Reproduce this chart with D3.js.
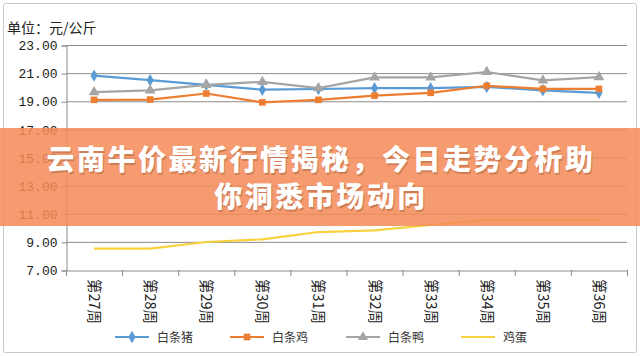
<!DOCTYPE html>
<html><head><meta charset="utf-8">
<script src="https://cdn.jsdelivr.net/npm/d3@7/dist/d3.min.js"></script>
<style>body{margin:0;background:#fff}svg{display:block}</style>
</head><body>
<svg id="c" width="640" height="356"></svg>
<script>
const weeks = ["第27周","第28周","第29周","第30周","第31周","第32周","第33周","第34周","第35周","第36周"];
const pork  = [20.82,20.5,20.17,19.82,19.87,19.93,19.93,20.02,19.78,19.6];
const chicken = [19.1,19.12,19.55,18.92,19.1,19.4,19.6,20.1,19.88,19.88];
const duck  = [19.65,19.78,20.16,20.38,19.93,20.7,20.7,21.08,20.48,20.72];
const egg   = [8.52,8.52,8.99,9.18,9.7,9.82,10.2,10.56,10.56,10.55];
const seriesNames = ["白条猪","白条鸡","白条鸭","鸡蛋"];
const yTicks = [7,9,11,13,15,17,19,21,23];
const unitLabel = "单位：元/公斤";
const titleLines = ["云南牛价最新行情揭秘，今日走势分析助","你洞悉市场动向"];

const svg = d3.select("#c");
const colors = ["#5B9BD5","#ED7D31","#A5A5A5","#F7D23E"];
const symbols = [d3.symbolDiamond, d3.symbolSquare, d3.symbolTriangle, null];
const data = [pork, chicken, duck, egg];

svg.append("rect").attr("x",3.5).attr("y",3.5).attr("width",633).attr("height",349)
  .attr("fill","#fff").attr("stroke","#c8c8c8").attr("rx",2);

const x = d3.scaleBand().domain(weeks).range([66,627]);
const y = d3.scaleLinear().domain([7,23]).range([270,45]);

// gridlines
svg.append("g").selectAll("line").data(yTicks.slice(1)).join("line")
  .attr("x1",66).attr("x2",627).attr("y1",d=>y(d)+0.5).attr("y2",d=>y(d)+0.5)
  .attr("stroke","#8c8c8c").attr("stroke-width",1);

// y axis
const ya = svg.append("g").attr("transform","translate(66.5,0.5)")
  .call(d3.axisLeft(y).tickValues(yTicks).tickSize(5).tickPadding(4).tickFormat(d3.format(".2f")));
ya.select(".domain").attr("stroke","#8c8c8c");
ya.selectAll(".tick line").attr("stroke","#8c8c8c");
ya.selectAll("text").attr("font-family","'Liberation Mono',monospace").attr("font-size",13).attr("fill","#222");

// x axis
const xa = svg.append("g").attr("transform","translate(0.5,270.5)")
  .call(d3.axisBottom(x).tickSize(0).tickFormat(""));
xa.select(".domain").attr("stroke","#8c8c8c");
svg.append("g").selectAll("line").data(weeks.concat(["end"])).join("line")
  .attr("x1",(d,i)=>66.5+i*x.step()).attr("x2",(d,i)=>66.5+i*x.step())
  .attr("y1",270).attr("y2",276).attr("stroke","#8c8c8c");
svg.append("g").selectAll("text").data(weeks).join("text")
  .attr("transform",d=>`translate(${x(d)+x.bandwidth()/2-5},279) rotate(90)`)
  .attr("font-family","'Noto Sans CJK SC',sans-serif").attr("font-size",14.5).attr("fill","#222")
  .text(d=>d);

// series
const line = d3.line().x((d,i)=>x(weeks[i])+x.bandwidth()/2).y(d=>y(d));
data.forEach((s,k)=>{
  svg.append("path").datum(s).attr("d",line).attr("fill","none")
    .attr("stroke",colors[k]).attr("stroke-width",2.2).attr("stroke-linejoin","round");
  if(symbols[k]){
    svg.append("g").selectAll("path").data(s).join("path")
      .attr("transform",(d,i)=>`translate(${x(weeks[i])+x.bandwidth()/2},${y(d)})`)
      .attr("d",d3.symbol().type(symbols[k]).size(k===2?50:44)).attr("fill",colors[k]);
  }
});

// unit label
svg.append("text").attr("x",7).attr("y",33).attr("font-family","'Noto Sans CJK SC',sans-serif")
  .attr("font-size",14).attr("fill","#222").text(unitLabel);

// legend
const legX = [115,230,346,461];
seriesNames.forEach((n,k)=>{
  const g = svg.append("g").attr("transform",`translate(${legX[k]},337)`);
  g.append("line").attr("x1",0).attr("x2",34).attr("stroke",colors[k]).attr("stroke-width",2.2);
  if(symbols[k]) g.append("path").attr("transform","translate(17,0)")
    .attr("d",d3.symbol().type(symbols[k]).size(44)).attr("fill",colors[k]);
  g.append("text").attr("x",42).attr("y",5).attr("font-family","'Noto Sans CJK SC',sans-serif")
    .attr("font-size",12).attr("fill","#333").text(n);
});

// banner
svg.append("rect").attr("x",0).attr("y",128).attr("width",640).attr("height",98)
  .attr("fill","#F58A57").attr("opacity",0.86);
titleLines.forEach((t,i)=>{
  const ty = i===0?170:207;
  svg.append("text").attr("x",322).attr("y",ty+1.5).attr("text-anchor","middle")
    .attr("font-family","'Noto Sans CJK SC',sans-serif").attr("font-weight",900)
    .attr("font-size",28).attr("letter-spacing",2.5).attr("fill","#8a4a2a").attr("opacity",0.35).text(t);
  svg.append("text").attr("x",321).attr("y",ty).attr("text-anchor","middle")
    .attr("font-family","'Noto Sans CJK SC',sans-serif").attr("font-weight",900)
    .attr("font-size",28).attr("letter-spacing",2.5).attr("fill","#fff").text(t);
});
</script>
</body></html>
